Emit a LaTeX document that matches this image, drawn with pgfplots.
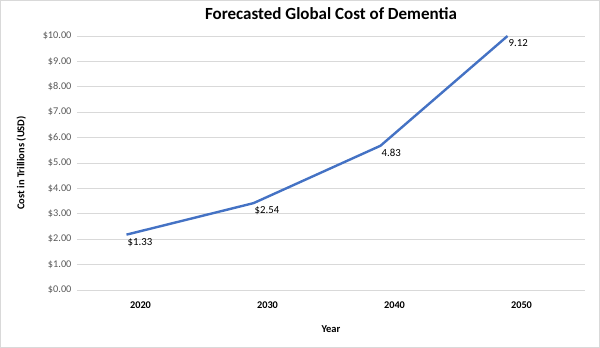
\documentclass[border=0pt]{standalone}
\usepackage{pgfplots}
\pgfplotsset{compat=1.18}
\usepackage{fontspec}
\setmainfont{Carlito}
\definecolor{linecol}{HTML}{4472C4}
\definecolor{gridcol}{HTML}{D9D9D9}
\definecolor{tickcol}{HTML}{595959}
\begin{document}
\begin{tikzpicture}
\draw[gridcol, line width=0.8pt] (0.4pt,0.4pt) rectangle (599.6pt,347.6pt);
\begin{axis}[
  at={(77pt,58pt)}, anchor=south west,
  scale only axis, width=508pt, height=254pt,
  xmin=-0.5, xmax=3.5, ymin=0, ymax=10,
  xtick={0,1,2,3}, xticklabels={2020,2030,2040,2050},
  ytick={0,1,...,10},
  yticklabel={\$\pgfmathprintnumber[fixed,fixed zerofill,precision=2]{\tick}},
  /pgf/number format/assume math mode=true,
  axis line style={draw=none},
  major tick length=0pt,
  ymajorgrids, grid style={gridcol, line width=0.9pt},
  yticklabel style={font=\fontsize{10.3}{12}\selectfont, text=tickcol, xshift=-2pt},
  xticklabel style={font=\bfseries\fontsize{10.3}{12}\selectfont, yshift=-8pt},
  xlabel={Year}, xlabel style={font=\bfseries\fontsize{10.5}{12}\selectfont, yshift=-10pt},
  ylabel={Cost in Trillions (USD)}, ylabel style={font=\bfseries\fontsize{10.5}{12}\selectfont, yshift=10pt},
  title={Forecasted Global Cost of Dementia},
  title style={font=\bfseries\fontsize{17}{20}\selectfont, yshift=7pt},
  clip=false,
]
\addplot[linecol, line width=2.4pt, line join=round,
  nodes near coords, point meta=explicit symbolic,
  every node near coord/.style={anchor=north west, inner sep=0pt, yshift=-2.5pt, xshift=0pt, font=\fontsize{10.8}{12}\selectfont, text=black}]
  table[meta=lab] {
x y lab
-0.11 2.18 \$1.33
0.89 3.42 \$2.54
1.89 5.68 4.83
2.89 10.0 9.12
};
\end{axis}
\end{tikzpicture}
\end{document}
